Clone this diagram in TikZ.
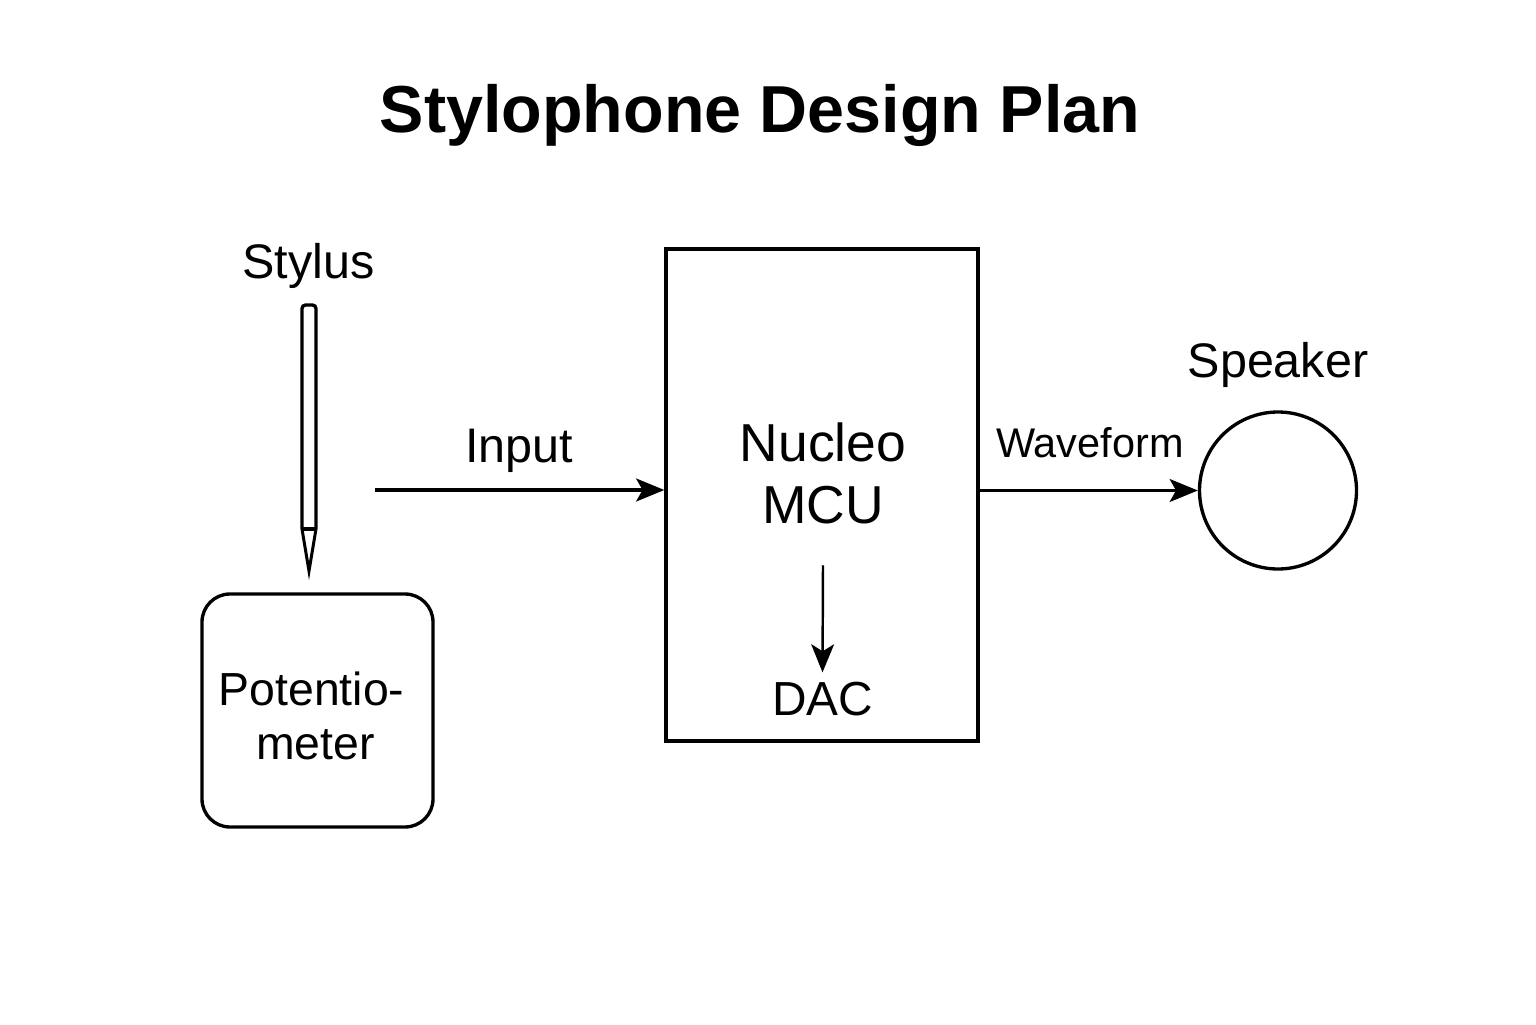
\documentclass[tikz,border=0pt]{standalone}
\usepackage{fontspec}
\setmainfont{Liberation Sans}
\usetikzlibrary{arrows.meta, positioning}

\tikzset{
    line/.style={line width=0.95pt},
    flow/.style={line, -{Stealth[length=8pt, width=6.5pt, inset=1.8pt]}},
    label/.style={font=\fontsize{13.8}{16}\selectfont},
}

\begin{document}
\begin{tikzpicture}
    \useasboundingbox (0,0) rectangle (15.36,10.24);

    % Title
    \node[font=\fontsize{18.9}{22}\selectfont\bfseries] (title) at (7.6,9.09) {Stylophone Design Plan};

    % Stylus
    \node[label] (styluslabel) at (3.085,7.58) {Stylus};
    \draw[line, rounded corners=1pt] (3.02,4.95) -- (3.02,7.19) -- (3.16,7.19) -- (3.16,4.95);
    \draw[line] (3.02,4.95) -- (3.16,4.95);
    \draw[line width=0.85pt, line join=miter] (3.02,4.95) -- (3.09,4.53) -- (3.16,4.95);

    % Potentiometer
    \node[draw, line, rounded corners=0.28cm, minimum width=2.31cm, minimum height=2.33cm] (pot) at (3.175,3.135) {};
    \node[font=\fontsize{13.2}{15.3}\selectfont, align=center] (pottext) at (3.115,3.08) {Potentio-\\\hspace*{0.08cm}meter};

    % Nucleo
    \node[draw, line, minimum width=3.12cm, minimum height=4.92cm] (mcu) at (8.22,5.29) {};
    \node[font=\fontsize{15.2}{17.6}\selectfont, align=center, inner sep=0.41cm] (nucleo) at (8.23,5.51) {Nucleo\\MCU};
    \node[font=\fontsize{13.6}{16}\selectfont, inner sep=0.09cm] (dac) at (8.225,3.25) {DAC};
    \draw[line width=0.7pt, -{Stealth[length=8pt, width=6.5pt, inset=2pt]}] (nucleo.south) -- (dac.north);

    % Speaker
    \node[draw, line, circle, minimum size=1.57cm] (speaker) at (12.78,5.335) {};
    \node[label] (speakerlabel) at (12.78,6.59) {Speaker};

    % Input and waveform
    \coordinate (inputstart) at (3.75,5.34);
    \draw[flow] (inputstart) -- (inputstart -| mcu.west);
    \node[label] (input) at (5.19,5.73) {Input};
    \draw[flow] (mcu.east |- speaker.west) -- (speaker.west);
    \node[font=\fontsize{11.8}{14}\selectfont] (waveform) at (10.9,5.81) {Waveform};
\end{tikzpicture}
\end{document}
